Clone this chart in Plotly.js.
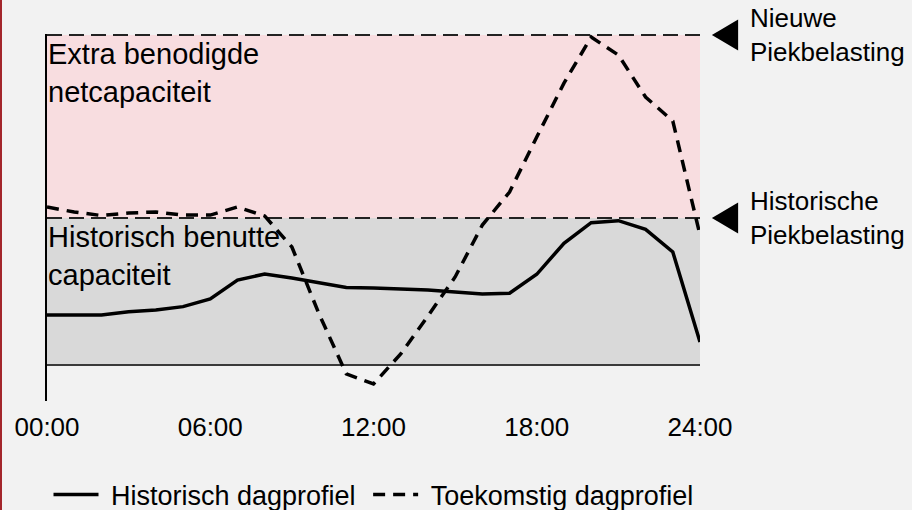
<!DOCTYPE html>
<html>
<head>
<meta charset="utf-8">
<script src="https://cdn.plot.ly/plotly-3.0.1.min.js"></script>
<style>
  html, body { margin: 0; padding: 0; background: #f2f2f2; }
  #chart { width: 912px; height: 510px; }
  #edge { position: absolute; left: 0; top: 0; width: 2px; height: 510px; background: #a3262c; }
</style>
</head>
<body>
<div id="chart"></div>
<div id="edge"></div>
<script>
// Hours of the day
const hours = [0,1,2,3,4,5,6,7,8,9,10,11,12,13,14,15,16,17,18,19,20,21,22,23,24];
// Historical daily load profile (relative units; historic peak = 100)
const historisch = [34.0,34.0,34.0,36.3,37.4,39.7,44.9,57.8,61.9,59.2,55.8,52.7,52.4,51.7,51.0,49.7,48.3,48.8,61.7,82.8,96.8,98.2,92.3,76.9,15.6];
// Future daily load profile
const toekomstig = [107.5,104.1,101.7,103.4,104.1,102.0,102.0,107.5,101.4,80.3,34.7,-6.1,-12.9,7.5,33.3,59.9,95.2,117.7,155.1,191.8,223.1,210.9,182.3,166.0,88.4];
// Reference levels
const basisNiveau = 0;
const historischePiek = 100;
const nieuwePiek = 224.5;
// Tick labels
const tickVals = [0,6,12,18,24];
const tickText = ["00:00","06:00","12:00","18:00","24:00"];
// Series names and region labels
const seriesNames = ["Historisch dagprofiel","Toekomstig dagprofiel"];
const regionLabels = ["Extra benodigde<br>netcapaciteit","Historisch benutte<br>capaciteit"];
const levelLabels = ["Nieuwe<br>Piekbelasting","Historische<br>Piekbelasting"];

const FONT = "Liberation Sans, Arial, Helvetica, sans-serif";
const NB = '\u00A0';
const xMin = hours[0], xMax = hours[hours.length-1];
const yRange = [-24.5, 225.2];
const plotH = 510 - 34 - 109;

function triangle(yVal) {
  const yp = (yVal - yRange[0]) / (yRange[1] - yRange[0]);
  const h = 15.5 / plotH;
  return {type:'path', xref:'paper', yref:'paper',
    path: `M 1.0584 ${yp + h} L 1.0182 ${yp} L 1.0584 ${yp - h} Z`,
    fillcolor:'#000', line:{width:0}};
}

const traces = [
  {x: hours, y: historisch, name: NB + seriesNames[0] + NB, type:'scatter', mode:'lines',
   line:{color:'#000', width:3.5}},
  {x: hours, y: toekomstig, name: NB + seriesNames[1], type:'scatter', mode:'lines',
   line:{color:'#000', width:3.5, dash:'12px,8px'}}
];

const layout = {
  width: 912, height: 510,
  paper_bgcolor:'#f2f2f2', plot_bgcolor:'rgba(0,0,0,0)',
  margin:{l:47, r:212, t:34, b:109, autoexpand:false},
  font:{family:FONT, color:'#000'},
  showlegend:true,
  legend:{orientation:'h', x:0.5, xanchor:'center', y:-0.256, yanchor:'middle',
          font:{size:27, family:FONT}, bgcolor:'rgba(0,0,0,0)', itemwidth:45,
          traceorder:'normal'},
  xaxis:{range:[xMin, xMax], tickvals:tickVals, ticktext:tickText, showgrid:false, zeroline:false,
         showline:false, ticks:'outside', ticklen:3, tickcolor:'rgba(0,0,0,0)',
         tickfont:{size:26, family:FONT}},
  yaxis:{range:yRange, showgrid:false, zeroline:false, showticklabels:false, ticks:'',
         showline:true, linecolor:'#000', linewidth:2},
  shapes:[
    {type:'rect', xref:'x', yref:'y', x0:xMin, x1:xMax, y0:historischePiek, y1:nieuwePiek,
     fillcolor:'#f8dde0', line:{width:0}, layer:'below'},
    {type:'rect', xref:'x', yref:'y', x0:xMin, x1:xMax, y0:basisNiveau, y1:historischePiek,
     fillcolor:'#d9d9d9', line:{width:0}, layer:'below'},
    {type:'line', xref:'x', yref:'y', x0:xMin, x1:xMax, y0:basisNiveau, y1:basisNiveau,
     line:{color:'#3a3a3a', width:2}, layer:'below'},
    {type:'line', xref:'x', yref:'y', x0:xMin, x1:xMax, y0:historischePiek, y1:historischePiek,
     line:{color:'#222', width:2, dash:'15px,7px'}, layer:'below'},
    {type:'line', xref:'x', yref:'y', x0:xMin, x1:xMax, y0:nieuwePiek, y1:nieuwePiek,
     line:{color:'#222', width:2, dash:'15px,7px'}, layer:'below'},
    triangle(nieuwePiek),
    triangle(historischePiek)
  ],
  annotations:[
    {xref:'x', yref:'y', x:xMin, y:nieuwePiek - 1.5, xanchor:'left', yanchor:'top', align:'left',
     text:regionLabels[0], showarrow:false, font:{size:29, family:FONT, color:'#000'}, borderpad:0},
    {xref:'x', yref:'y', x:xMin, y:historischePiek - 1.5, xanchor:'left', yanchor:'top', align:'left',
     text:regionLabels[1], showarrow:false, font:{size:29, family:FONT, color:'#000'}, borderpad:0},
    {xref:'paper', yref:'y', x:1.075, y:nieuwePiek, xanchor:'left', yanchor:'middle', align:'left',
     text:levelLabels[0], showarrow:false, font:{size:26, family:FONT, color:'#000'}, borderpad:0},
    {xref:'paper', yref:'y', x:1.075, y:historischePiek, xanchor:'left', yanchor:'middle', align:'left',
     text:levelLabels[1], showarrow:false, font:{size:26, family:FONT, color:'#000'}, borderpad:0}
  ]
};

Plotly.newPlot('chart', traces, layout, {displayModeBar:false, staticPlot:true});
</script>
</body>
</html>
